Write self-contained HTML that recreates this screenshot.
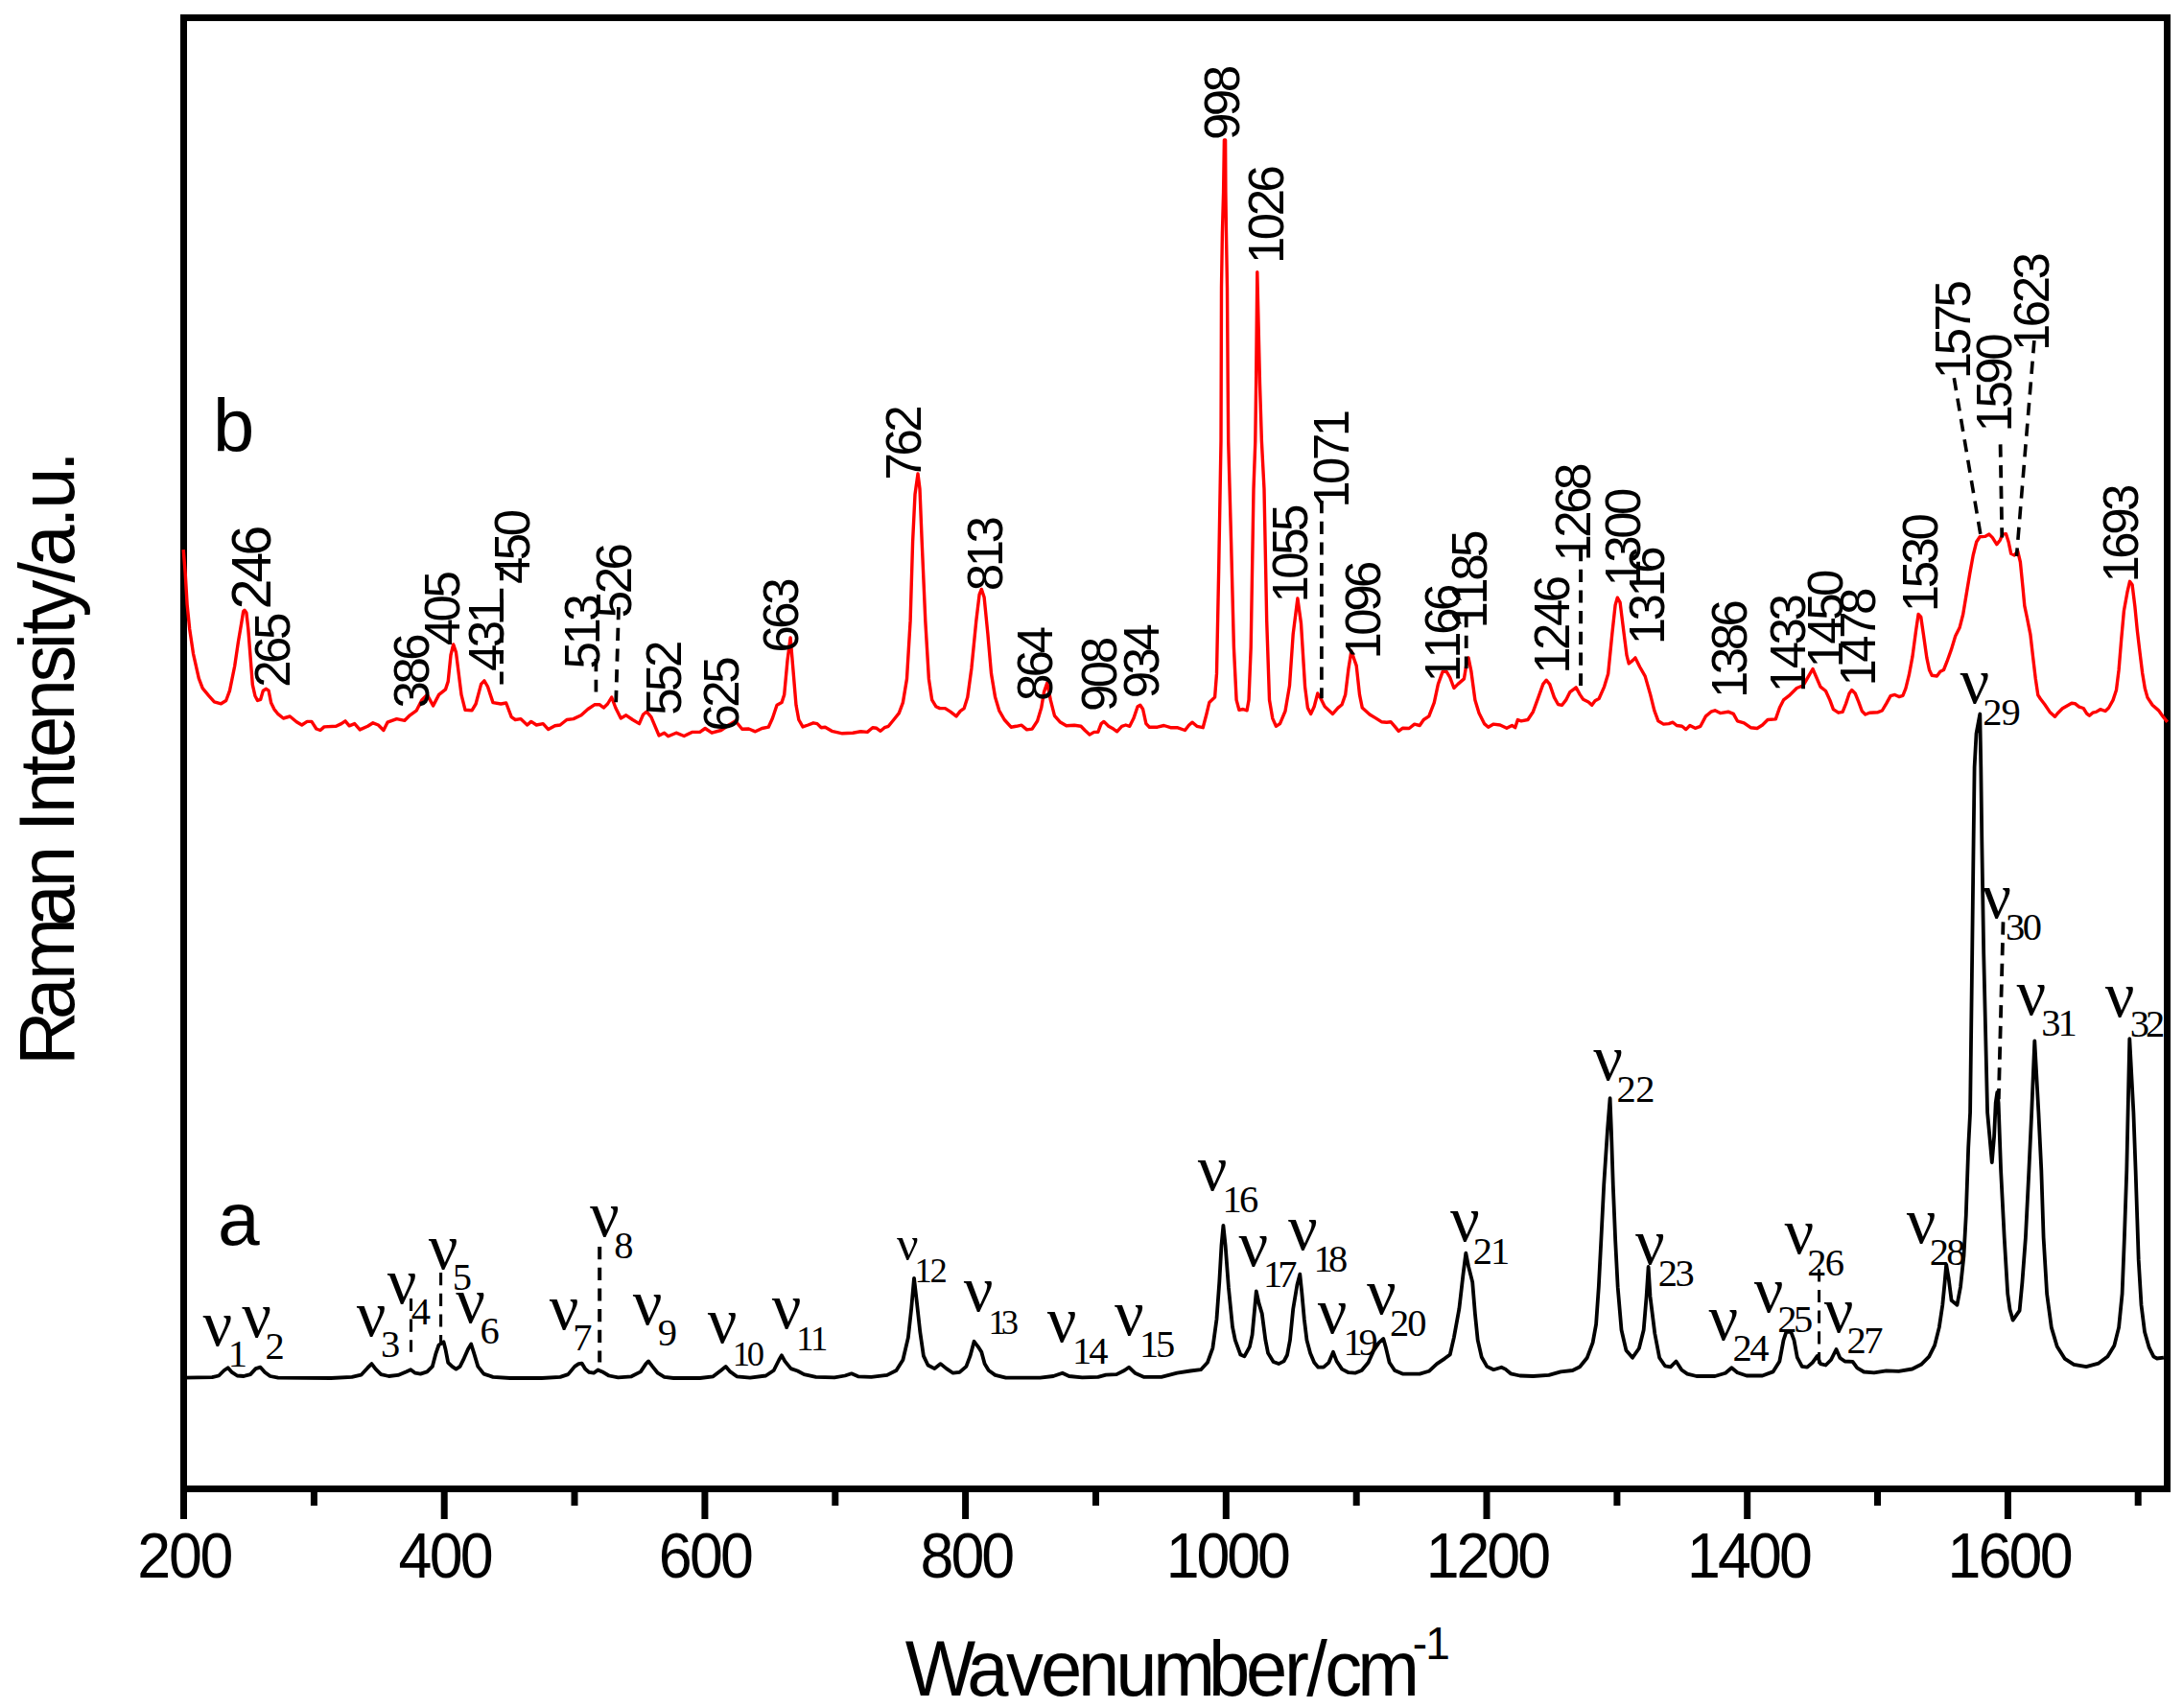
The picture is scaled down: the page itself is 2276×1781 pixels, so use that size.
<!DOCTYPE html>
<html><head><meta charset="utf-8"><title>Raman spectra</title>
<style>html,body{margin:0;padding:0;background:#fff;width:2276px;height:1781px;overflow:hidden}svg{display:block}</style></head>
<body>
<svg width="2276" height="1781" viewBox="0 0 2276 1781" font-family='"Liberation Sans", sans-serif' fill="#000" style="font-kerning:none">
<style>.sf{font-family:"Liberation Serif", serif}</style>
<rect width="2276" height="1781" fill="#fff"/>
<rect x="191.5" y="18.5" width="2068" height="1534" fill="none" stroke="#000" stroke-width="7"/>
<line x1="191.5" y1="1552" x2="191.5" y2="1584" stroke="#000" stroke-width="7"/>
<line x1="327.4" y1="1552" x2="327.4" y2="1570" stroke="#000" stroke-width="7"/>
<line x1="463.2" y1="1552" x2="463.2" y2="1584" stroke="#000" stroke-width="7"/>
<line x1="599.0" y1="1552" x2="599.0" y2="1570" stroke="#000" stroke-width="7"/>
<line x1="734.9" y1="1552" x2="734.9" y2="1584" stroke="#000" stroke-width="7"/>
<line x1="870.8" y1="1552" x2="870.8" y2="1570" stroke="#000" stroke-width="7"/>
<line x1="1006.6" y1="1552" x2="1006.6" y2="1584" stroke="#000" stroke-width="7"/>
<line x1="1142.5" y1="1552" x2="1142.5" y2="1570" stroke="#000" stroke-width="7"/>
<line x1="1278.3" y1="1552" x2="1278.3" y2="1584" stroke="#000" stroke-width="7"/>
<line x1="1414.2" y1="1552" x2="1414.2" y2="1570" stroke="#000" stroke-width="7"/>
<line x1="1550.0" y1="1552" x2="1550.0" y2="1584" stroke="#000" stroke-width="7"/>
<line x1="1685.9" y1="1552" x2="1685.9" y2="1570" stroke="#000" stroke-width="7"/>
<line x1="1821.7" y1="1552" x2="1821.7" y2="1584" stroke="#000" stroke-width="7"/>
<line x1="1957.5" y1="1552" x2="1957.5" y2="1570" stroke="#000" stroke-width="7"/>
<line x1="2093.4" y1="1552" x2="2093.4" y2="1584" stroke="#000" stroke-width="7"/>
<line x1="2229.2" y1="1552" x2="2229.2" y2="1570" stroke="#000" stroke-width="7"/>
<polyline points="191.0,1436.7 221.2,1436.2 228.1,1434.5 233.6,1429.0 237.7,1426.2 241.8,1430.9 247.3,1434.5 254.2,1435.0 261.1,1433.1 266.6,1427.1 271.5,1425.7 276.2,1430.9 281.7,1435.0 290.0,1436.7 344.9,1437.0 366.9,1435.9 376.5,1433.7 383.4,1426.2 387.5,1422.1 391.7,1427.6 397.2,1433.1 405.4,1435.0 415.0,1433.9 423.3,1430.4 428.2,1428.2 432.9,1431.7 438.4,1432.6 445.3,1430.4 450.8,1424.9 454.5,1411.1 457.5,1402.5 460.5,1400.5 462.5,1399.3 464.5,1407.0 467.2,1420.8 471.4,1424.9 475.5,1427.6 479.6,1424.9 483.7,1416.6 487.9,1407.0 491.2,1401.5 494.2,1411.1 498.3,1424.9 504.4,1432.6 514.0,1435.9 531.8,1437.0 564.8,1437.0 584.1,1435.9 592.3,1433.1 599.2,1424.9 603.3,1422.1 606.6,1421.6 610.2,1427.6 614.3,1430.9 619.0,1431.7 623.4,1428.4 628.0,1430.4 634.9,1434.5 644.5,1436.4 658.3,1435.3 667.9,1430.4 673.4,1422.1 676.1,1419.4 680.3,1424.9 685.8,1431.7 692.6,1435.9 702.3,1437.0 729.7,1437.0 743.5,1435.3 751.7,1429.0 756.7,1424.9 761.4,1430.4 768.2,1435.3 782.0,1436.7 798.5,1434.5 806.7,1429.0 812.2,1418.0 815.0,1413.3 818.3,1419.4 824.6,1427.1 831.5,1429.5 838.3,1433.1 850.7,1435.9 870.0,1436.4 880.9,1434.5 887.8,1432.3 894.7,1435.3 908.4,1435.9 924.9,1433.9 934.5,1429.0 941.4,1418.0 946.9,1394.6 950.2,1364.4 953.0,1332.8 956.0,1358.9 959.3,1389.1 962.9,1413.9 967.5,1423.5 974.4,1427.1 980.7,1422.1 986.8,1427.1 993.6,1431.7 1000.5,1430.9 1007.4,1424.9 1011.5,1413.9 1015.6,1398.8 1019.8,1404.3 1023.3,1409.8 1026.6,1422.1 1030.8,1429.0 1037.6,1433.9 1048.6,1436.7 1084.4,1436.7 1098.1,1435.0 1107.7,1431.7 1114.6,1435.0 1128.3,1436.4 1144.8,1435.9 1153.1,1433.7 1164.1,1433.1 1172.3,1429.0 1177.0,1425.7 1183.3,1431.7 1192.9,1435.9 1210.8,1435.9 1227.3,1431.7 1241.0,1429.5 1252.0,1428.2 1258.9,1420.8 1264.4,1405.6 1268.5,1375.4 1271.3,1336.9 1273.5,1298.4 1275.4,1277.8 1277.6,1298.4 1280.9,1342.4 1285.0,1383.6 1287.8,1397.4 1293.3,1412.5 1297.4,1414.4 1302.9,1404.3 1305.6,1391.9 1308.4,1361.7 1309.8,1346.5 1312.5,1358.9 1315.8,1369.9 1319.4,1397.4 1322.1,1411.1 1327.6,1419.9 1333.1,1422.1 1338.6,1419.4 1342.0,1413.0 1345.0,1397.4 1348.2,1365.0 1352.4,1339.7 1355.3,1328.7 1357.3,1347.9 1359.8,1375.4 1362.5,1397.4 1366.1,1411.1 1370.2,1420.8 1374.4,1425.7 1379.9,1425.7 1385.4,1420.8 1390.0,1409.8 1393.6,1419.4 1399.1,1427.6 1406.0,1431.2 1412.8,1431.7 1419.7,1429.0 1426.6,1420.8 1432.1,1408.4 1437.6,1400.1 1442.3,1396.0 1445.0,1405.6 1448.6,1420.8 1454.1,1429.0 1462.3,1432.6 1480.2,1432.6 1489.8,1429.8 1498.1,1422.1 1506.3,1416.6 1511.8,1412.5 1515.9,1394.6 1521.4,1364.4 1525.5,1328.7 1528.3,1306.7 1531.0,1320.4 1535.2,1336.9 1537.9,1369.9 1540.7,1397.4 1544.8,1415.3 1550.3,1424.9 1557.2,1428.2 1565.4,1425.7 1569.5,1427.6 1575.0,1432.3 1584.6,1434.5 1598.4,1435.0 1614.9,1433.9 1627.2,1430.4 1639.6,1429.0 1647.1,1425.3 1654.8,1415.7 1660.6,1400.2 1664.1,1380.9 1666.8,1342.2 1669.3,1293.9 1672.2,1235.9 1676.0,1178.0 1678.6,1145.1 1679.9,1178.0 1681.8,1235.9 1684.2,1293.9 1686.7,1342.2 1690.5,1386.7 1695.4,1407.9 1702.1,1415.7 1708.9,1406.0 1713.7,1386.7 1716.6,1351.9 1718.6,1321.0 1720.5,1351.9 1725.3,1390.5 1730.1,1415.7 1735.9,1424.3 1741.7,1425.3 1747.5,1419.5 1753.3,1428.5 1759.2,1432.6 1768.8,1435.0 1788.0,1435.0 1799.0,1431.7 1805.4,1426.2 1811.4,1431.2 1821.0,1434.5 1837.5,1434.5 1848.5,1430.4 1855.4,1419.4 1859.5,1397.4 1862.3,1389.1 1867.2,1388.6 1870.5,1397.4 1873.8,1415.3 1878.8,1424.9 1884.2,1425.7 1889.7,1420.8 1894.7,1413.9 1898.0,1422.1 1903.5,1423.5 1909.0,1418.0 1914.5,1407.0 1918.4,1416.0 1923.4,1419.5 1931.6,1419.8 1936.3,1426.3 1943.3,1430.5 1953.9,1431.4 1966.7,1429.3 1979.6,1429.8 1993.7,1427.5 2003.0,1422.8 2011.2,1414.6 2017.1,1402.9 2021.8,1384.1 2025.3,1360.7 2027.6,1337.3 2029.2,1318.6 2031.6,1332.6 2034.6,1356.0 2040.5,1360.7 2044.0,1342.0 2047.5,1309.2 2049.8,1267.1 2052.2,1196.8 2054.1,1160.0 2056.2,994.0 2057.6,877.0 2058.6,800.0 2060.5,765.0 2064.3,744.5 2065.3,800.0 2066.3,877.0 2068.2,994.0 2072.1,1160.0 2074.4,1185.1 2076.8,1212.0 2079.1,1185.1 2080.7,1150.0 2082.3,1139.0 2083.6,1150.0 2086.1,1220.2 2089.7,1290.5 2093.2,1349.0 2095.5,1365.4 2098.6,1376.6 2105.6,1366.6 2108.4,1337.3 2111.9,1290.5 2115.4,1220.2 2118.2,1160.0 2121.3,1085.4 2125.4,1160.0 2128.3,1220.2 2130.6,1290.5 2134.1,1349.0 2138.8,1384.1 2144.7,1404.0 2152.9,1416.9 2162.2,1422.8 2175.1,1425.1 2188.0,1421.6 2197.4,1414.6 2204.4,1402.9 2209.1,1384.1 2212.6,1349.0 2214.9,1290.5 2217.3,1220.2 2218.6,1160.0 2220.3,1083.1 2224.4,1160.0 2226.6,1220.2 2229.7,1313.9 2232.5,1360.7 2236.0,1388.8 2240.7,1405.2 2245.4,1414.6 2248.9,1416.5 2255.9,1415.7" fill="none" stroke="#000" stroke-width="3.8" stroke-linejoin="round" stroke-linecap="butt"/>
<polyline points="191.2,573.2 193.2,597.9 195.1,630.1 197.7,655.9 201.5,681.6 207.3,707.4 211.2,717.7 217.6,725.4 223.4,731.8 230.5,733.8 235.7,730.5 239.5,720.2 244.7,694.5 248.5,668.7 251.8,649.4 253.7,637.5 255.0,636.3 256.9,639.0 258.8,655.9 260.8,681.6 263.3,713.8 265.9,725.4 268.5,730.5 271.7,729.3 274.3,720.2 277.5,718.3 280.1,720.2 282.7,733.1 285.9,739.6 290.0,744.7 295.4,749.0 302.3,747.0 309.2,752.7 314.7,756.0 320.2,752.4 324.9,752.4 329.8,760.0 333.9,761.5 338.0,757.9 350.4,757.3 355.9,754.6 360.0,751.8 364.2,756.8 369.7,754.6 375.2,760.9 383.4,757.3 388.9,753.8 394.4,756.0 399.9,761.5 404.0,753.2 413.6,749.6 421.9,751.3 427.4,745.8 434.3,740.8 439.8,729.9 445.3,724.4 451.6,735.9 457.6,724.4 464.5,718.9 467.2,710.6 470.0,683.0 472.7,672.0 475.5,680.4 481.0,724.4 485.0,740.3 492.0,740.8 496.1,734.0 501.6,713.4 504.9,709.8 508.5,716.0 514.0,732.6 522.2,734.0 527.7,733.0 533.2,747.7 537.3,750.5 542.8,749.6 549.7,756.0 553.8,752.4 559.3,756.0 566.2,754.6 571.7,760.6 578.6,756.8 584.0,756.0 590.9,750.5 597.8,749.6 606.0,745.8 612.9,739.5 619.8,734.8 625.3,734.8 629.4,738.0 633.5,734.0 637.7,727.0 641.8,738.0 647.3,749.0 652.8,745.8 659.6,750.5 666.5,754.6 670.6,745.0 674.2,742.2 678.9,747.7 687.1,767.0 692.6,764.2 696.7,767.8 705.0,764.2 713.2,767.5 721.5,763.4 729.7,763.4 735.2,759.5 742.1,764.2 751.7,761.5 760.0,756.0 766.8,751.8 773.7,760.3 780.6,760.0 787.5,762.8 794.4,759.5 801.2,758.2 805.4,749.0 810.0,735.3 815.0,732.6 817.7,724.4 821.0,688.6 824.1,665.0 826.8,696.9 830.0,735.3 832.8,750.5 837.0,757.9 842.5,756.0 848.0,753.8 852.0,754.6 856.2,758.7 860.3,758.2 867.2,762.3 878.2,764.8 889.2,764.2 897.4,762.8 904.3,763.4 909.8,758.7 913.9,759.3 918.0,762.3 922.2,758.7 926.3,757.3 931.8,750.5 937.3,743.6 941.4,732.6 945.5,707.9 949.1,647.4 951.6,564.9 954.0,515.4 957.0,494.0 959.0,510.0 961.2,564.9 964.8,647.4 968.4,707.9 971.7,729.9 975.8,736.7 979.9,738.6 985.4,738.6 990.9,742.2 997.0,746.9 1001.3,741.4 1005.2,738.6 1008.8,727.1 1012.9,696.9 1017.8,647.4 1021.1,619.9 1023.3,614.4 1026.1,622.7 1029.9,661.1 1033.5,702.4 1037.6,727.1 1041.7,740.8 1047.2,750.5 1054.1,758.2 1059.6,757.3 1065.1,756.2 1070.6,760.9 1076.1,760.1 1081.6,751.8 1085.7,738.1 1088.5,721.6 1091.8,712.0 1095.3,729.9 1099.5,746.3 1105.0,752.7 1111.8,756.8 1120.1,756.2 1127.0,757.3 1131.1,761.5 1136.0,766.1 1140.7,763.4 1144.8,763.4 1148.1,754.6 1150.9,752.4 1155.8,757.3 1160.8,760.1 1164.6,762.8 1169.6,757.3 1173.7,756.0 1177.8,757.3 1181.9,749.1 1186.1,736.7 1188.8,735.3 1191.6,739.5 1194.9,754.6 1198.4,758.2 1206.7,758.2 1213.5,756.5 1220.4,758.7 1227.3,758.7 1235.5,761.5 1239.7,756.0 1243.2,753.2 1247.9,757.3 1254.2,758.7 1257.5,746.3 1260.8,732.6 1266.6,727.1 1268.5,702.4 1270.7,592.4 1273.0,460.0 1273.2,400.0 1273.5,300.0 1274.4,243.0 1275.6,200.0 1276.4,146.0 1277.6,146.0 1277.9,200.0 1278.5,243.0 1279.5,300.0 1280.2,400.0 1280.7,460.0 1283.6,564.9 1286.4,674.9 1289.1,729.9 1291.9,740.3 1296.0,739.5 1300.1,740.8 1302.0,729.9 1304.2,674.9 1307.0,510.0 1308.8,460.0 1309.6,400.0 1310.8,283.6 1313.5,400.0 1315.4,460.0 1318.0,510.0 1320.7,647.4 1323.5,729.9 1326.8,749.1 1330.4,757.3 1334.5,754.6 1340.0,741.5 1344.5,715.0 1348.2,661.1 1352.9,624.0 1356.5,650.0 1360.6,716.1 1363.4,738.1 1366.7,744.4 1370.2,736.7 1373.8,723.0 1377.1,728.5 1381.2,736.7 1389.5,744.4 1395.0,738.1 1399.1,734.8 1402.7,724.4 1406.0,696.9 1408.9,679.0 1414.2,694.1 1417.5,724.4 1420.3,738.1 1428.0,745.0 1434.8,749.1 1440.3,752.7 1445.8,753.2 1450.0,752.7 1454.1,757.3 1458.2,762.3 1462.3,759.3 1469.2,759.5 1474.7,755.1 1480.2,756.5 1484.3,750.5 1489.8,746.9 1495.3,732.6 1499.4,713.4 1504.1,700.4 1508.2,700.4 1511.8,706.5 1515.9,717.5 1520.0,713.4 1526.4,707.9 1529.1,691.4 1531.0,685.9 1533.8,699.6 1537.9,729.9 1542.0,743.6 1547.5,754.6 1551.7,758.2 1557.2,755.1 1564.0,756.0 1570.9,759.3 1576.4,756.5 1579.7,758.7 1582.4,750.5 1586.0,751.8 1592.9,750.5 1598.4,742.2 1603.9,727.1 1608.8,713.4 1612.1,709.2 1615.7,713.4 1620.4,727.1 1624.5,734.5 1628.6,735.3 1632.7,729.9 1636.9,721.6 1643.2,716.9 1647.3,724.4 1650.6,729.3 1656.1,732.0 1659.7,735.3 1663.0,730.7 1667.1,728.5 1672.6,716.1 1676.7,702.4 1680.8,661.1 1684.1,630.9 1686.3,623.2 1689.1,628.1 1693.2,661.1 1696.0,683.1 1698.2,691.9 1702.3,688.6 1705.0,685.9 1709.7,695.5 1715.2,705.1 1720.7,724.4 1724.8,740.8 1728.9,751.8 1734.4,755.1 1739.9,754.6 1744.1,753.2 1748.2,756.5 1753.7,757.3 1757.8,760.6 1761.9,756.5 1767.4,759.3 1772.9,757.3 1778.4,746.9 1783.9,742.2 1788.0,740.8 1793.5,743.6 1801.8,742.2 1807.3,744.4 1811.4,751.8 1818.3,753.8 1825.2,758.7 1832.0,759.5 1837.5,756.0 1843.0,750.5 1851.3,749.9 1855.4,738.1 1859.5,729.9 1865.0,725.7 1873.3,717.5 1880.1,714.7 1885.6,705.1 1890.0,697.5 1893.9,706.5 1898.0,716.1 1903.5,720.5 1907.9,730.1 1911.4,739.7 1916.7,743.2 1921.1,742.4 1924.6,733.6 1928.1,723.0 1930.7,719.5 1934.2,723.0 1937.8,731.8 1941.3,741.5 1944.8,745.0 1949.2,743.2 1958.0,742.7 1962.3,741.0 1966.7,733.6 1971.1,725.7 1975.5,724.4 1979.9,726.6 1983.9,725.3 1986.9,717.8 1990.4,703.7 1994.0,684.4 1997.5,658.1 2000.1,640.5 2002.7,643.1 2005.4,661.6 2008.9,686.2 2011.5,698.5 2014.2,704.3 2019.4,705.0 2022.9,700.2 2026.5,698.5 2030.0,689.7 2034.4,677.4 2038.7,663.3 2043.1,654.6 2046.7,640.5 2050.2,619.4 2053.7,598.4 2057.2,579.0 2060.7,565.0 2064.2,559.7 2069.5,559.4 2073.9,557.1 2077.4,560.6 2081.8,567.6 2085.3,563.2 2087.9,557.1 2091.4,556.6 2094.1,565.0 2096.7,577.3 2100.2,579.0 2103.7,574.6 2106.4,586.1 2109.0,612.4 2110.8,631.7 2113.4,644.0 2116.9,661.6 2119.5,684.4 2122.2,707.2 2124.8,724.8 2127.4,728.8 2131.8,734.5 2137.1,742.4 2142.4,747.3 2145.9,743.2 2150.3,738.8 2154.7,736.2 2159.9,733.2 2163.4,733.6 2167.8,737.1 2172.2,738.5 2175.7,744.1 2178.4,746.2 2181.9,743.2 2185.4,742.4 2189.8,739.7 2195.0,741.5 2198.6,738.0 2203.0,730.1 2206.5,719.5 2209.1,698.5 2211.7,666.8 2214.4,637.0 2217.9,617.7 2220.5,606.3 2223.1,609.8 2225.8,631.7 2228.4,658.1 2231.1,680.9 2233.7,702.0 2236.3,717.8 2239.0,727.4 2244.2,735.3 2250.4,740.6 2254.8,746.8 2259.7,752.9" fill="none" stroke="#ff0000" stroke-width="3.4" stroke-linejoin="round" stroke-linecap="butt"/>
<line x1="522.9" y1="592" x2="522.9" y2="713.6" stroke="#000" stroke-width="3.9" stroke-dasharray="13.2 8.5"/>
<line x1="621.4" y1="687" x2="621.4" y2="721.6" stroke="#000" stroke-width="3.7" stroke-dasharray="13.2 8.5"/>
<line x1="645" y1="633.1" x2="642.2" y2="732.2" stroke="#000" stroke-width="3.8" stroke-dasharray="13.2 8.5"/>
<line x1="1377.9" y1="522" x2="1377.9" y2="728.3" stroke="#000" stroke-width="3.7" stroke-dasharray="13.2 8.5"/>
<line x1="1528.7" y1="641" x2="1528.7" y2="696.9" stroke="#000" stroke-width="3.8" stroke-dasharray="13.2 8.5"/>
<line x1="1648.1" y1="572" x2="1648.1" y2="715.1" stroke="#000" stroke-width="3.9" stroke-dasharray="13.2 8.5"/>
<line x1="2037.3" y1="394.1" x2="2065" y2="558" stroke="#000" stroke-width="3.6" stroke-dasharray="13.2 8.5"/>
<line x1="2085.6" y1="463.4" x2="2087.3" y2="560.5" stroke="#000" stroke-width="3.8" stroke-dasharray="13.2 8.5"/>
<line x1="2120.9" y1="355.1" x2="2102.5" y2="580" stroke="#000" stroke-width="3.6" stroke-dasharray="13.2 8.5"/>
<line x1="428.5" y1="1353.9" x2="428.5" y2="1409.7" stroke="#000" stroke-width="3.1" stroke-dasharray="13.2 8.5"/>
<line x1="459.6" y1="1327" x2="459.6" y2="1402.6" stroke="#000" stroke-width="3.1" stroke-dasharray="13.2 8.5"/>
<line x1="625.2" y1="1300" x2="625.2" y2="1420.6" stroke="#000" stroke-width="4.0" stroke-dasharray="13.2 8.5"/>
<line x1="1896.6" y1="1323.2" x2="1896.6" y2="1422.1" stroke="#000" stroke-width="3.0" stroke-dasharray="13.2 8.5"/>
<line x1="2088.5" y1="961.4" x2="2083.8" y2="1146.3" stroke="#000" stroke-width="3.8" stroke-dasharray="13.2 8.5"/>
<text transform="translate(143.3,1645) scale(0.945,1)" font-size="66.3" letter-spacing="-2.35">200</text>
<text transform="translate(415.6,1645) scale(0.945,1)" font-size="66.3" letter-spacing="-2.88">400</text>
<text transform="translate(686.8,1645) scale(0.945,1)" font-size="66.3" letter-spacing="-2.91">600</text>
<text transform="translate(959.6,1645) scale(0.945,1)" font-size="66.3" letter-spacing="-3.16">800</text>
<text transform="translate(1215.7,1645) scale(0.945,1)" font-size="66.3" letter-spacing="-3.24">1000</text>
<text transform="translate(1486.8,1645) scale(0.945,1)" font-size="66.3" letter-spacing="-3.24">1200</text>
<text transform="translate(1758.9,1645) scale(0.945,1)" font-size="66.3" letter-spacing="-2.96">1400</text>
<text transform="translate(2030.5,1645) scale(0.945,1)" font-size="66.3" letter-spacing="-2.96">1600</text>
<text transform="translate(0,1767.6) scale(0.96,1)" font-size="81" x="983.1 1050.3 1092.7 1130.2 1170.9 1211.7 1252.3 1312.4 1353.1 1394.8 1419.1 1438.8 1474.2" y="0">Wavenumber/cm<tspan x="1534.1" y="-37.7" font-size="48" letter-spacing="-2">-1</tspan></text>
<text transform="translate(77.2,0) rotate(-90) scale(0.96,1)" font-size="81" x="-1157.1 -1107.3 -1064.5 -1005.9 -963.8 -921.9 -903.3 -883.5 -842.7 -822.8 -782.7 -741.2 -705.4 -689.4 -670.4 -632.8 -615.3 -573.2 -553.0 -512.6">Raman Intensity/a.u.</text>
<text x="221.9" y="471.2" font-size="77.7">b</text>
<text x="227.1" y="1298.3" font-size="78.5">a</text>
<text transform="translate(281.6,635.2) rotate(-90)" font-size="57.0" letter-spacing="-3.91">246</text>
<text transform="translate(302.4,716.8) rotate(-90)" font-size="51.0" letter-spacing="-3.50">265</text>
<text transform="translate(446.7,738.4) rotate(-90)" font-size="51.0" letter-spacing="-3.50">386</text>
<text transform="translate(479.3,673.3) rotate(-90)" font-size="51.0" letter-spacing="-3.50">405</text>
<text transform="translate(524.6,700.0) rotate(-90)" font-size="51.0" letter-spacing="-3.50">431</text>
<text transform="translate(551.6,609.0) rotate(-90)" font-size="51.0" letter-spacing="-3.50">450</text>
<text transform="translate(625.4,697.4) rotate(-90)" font-size="51.0" letter-spacing="-3.50">513</text>
<text transform="translate(658.2,644.2) rotate(-90)" font-size="51.0" letter-spacing="-3.50">526</text>
<text transform="translate(709.7,745.8) rotate(-90)" font-size="51.0" letter-spacing="-3.50">552</text>
<text transform="translate(769.6,762.6) rotate(-90)" font-size="51.0" letter-spacing="-3.50">625</text>
<text transform="translate(831.8,680.5) rotate(-90)" font-size="51.0" letter-spacing="-3.50">663</text>
<text transform="translate(960.4,500.4) rotate(-90)" font-size="51.0" letter-spacing="-3.50">762</text>
<text transform="translate(1044.5,616.2) rotate(-90)" font-size="51.0" letter-spacing="-3.50">813</text>
<text transform="translate(1096.5,731.0) rotate(-90)" font-size="51.0" letter-spacing="-3.50">864</text>
<text transform="translate(1163.5,742.0) rotate(-90)" font-size="51.0" letter-spacing="-3.50">908</text>
<text transform="translate(1207.5,728.3) rotate(-90)" font-size="51.0" letter-spacing="-3.50">934</text>
<text transform="translate(1291.5,146.0) rotate(-90)" font-size="51.0" letter-spacing="-3.50">998</text>
<text transform="translate(1337.5,275.0) rotate(-90)" font-size="51.0" letter-spacing="-3.50">1026</text>
<text transform="translate(1362.5,628.5) rotate(-90)" font-size="51.0" letter-spacing="-3.50">1055</text>
<text transform="translate(1405.7,529.8) rotate(-90)" font-size="51.0" letter-spacing="-3.50">1071</text>
<text transform="translate(1438.8,687.5) rotate(-90)" font-size="51.0" letter-spacing="-3.50">1096</text>
<text transform="translate(1521.5,711.5) rotate(-90)" font-size="51.0" letter-spacing="-3.50">1166</text>
<text transform="translate(1549.7,655.6) rotate(-90)" font-size="51.0" letter-spacing="-3.50">1185</text>
<text transform="translate(1635.7,702.8) rotate(-90)" font-size="51.0" letter-spacing="-3.50">1246</text>
<text transform="translate(1657.6,585.5) rotate(-90)" font-size="51.0" letter-spacing="-3.50">1268</text>
<text transform="translate(1709.5,611.6) rotate(-90)" font-size="51.0" letter-spacing="-3.50">1300</text>
<text transform="translate(1734.6,672.3) rotate(-90)" font-size="51.0" letter-spacing="-3.50">1316</text>
<text transform="translate(1820.5,728.1) rotate(-90)" font-size="51.0" letter-spacing="-3.50">1386</text>
<text transform="translate(1881.5,722.2) rotate(-90)" font-size="51.0" letter-spacing="-3.50">1433</text>
<text transform="translate(1920.5,696.6) rotate(-90)" font-size="51.0" letter-spacing="-3.50">1450</text>
<text transform="translate(1955.4,715.6) rotate(-90)" font-size="51.0" letter-spacing="-3.50">1478</text>
<text transform="translate(2019.5,638.2) rotate(-90)" font-size="51.0" letter-spacing="-3.50">1530</text>
<text transform="translate(2053.6,395.2) rotate(-90)" font-size="51.0" letter-spacing="-3.50">1575</text>
<text transform="translate(2096.7,450.4) rotate(-90)" font-size="51.0" letter-spacing="-3.50">1590</text>
<text transform="translate(2136.4,366.0) rotate(-90)" font-size="51.0" letter-spacing="-3.50">1623</text>
<text transform="translate(2228.5,607.5) rotate(-90)" font-size="51.0" letter-spacing="-3.50">1693</text>
<text class="sf" x="211.4" y="1402.5" font-size="68.0">ν<tspan x="237.8" y="1425.2" font-size="40.5">1</tspan></text>
<text class="sf" x="252.2" y="1393.8" font-size="68.0">ν<tspan x="276.6" y="1416.5" font-size="40.5">2</tspan></text>
<text class="sf" x="371.8" y="1393.0" font-size="68.0">ν<tspan x="397.1" y="1415.3" font-size="40.5">3</tspan></text>
<text class="sf" x="403.8" y="1359.2" font-size="68.0">ν<tspan x="428.8" y="1381.4" font-size="40.5">4</tspan></text>
<text class="sf" x="446.8" y="1323.0" font-size="68.0">ν<tspan x="471.8" y="1344.7" font-size="40.5">5</tspan></text>
<text class="sf" x="475.2" y="1379.3" font-size="68.0">ν<tspan x="500.4" y="1400.8" font-size="40.5">6</tspan></text>
<text class="sf" x="572.8" y="1385.6" font-size="68.0">ν<tspan x="597.2" y="1407.5" font-size="40.5">7</tspan></text>
<text class="sf" x="615.1" y="1289.4" font-size="68.0">ν<tspan x="640.3" y="1311.7" font-size="40.5">8</tspan></text>
<text class="sf" x="659.8" y="1381.2" font-size="68.0">ν<tspan x="685.8" y="1403.0" font-size="40.5">9</tspan></text>
<text class="sf" x="737.8" y="1399.8" font-size="68.0">ν<tspan x="763.7" y="1423.6" font-size="36.6" letter-spacing="-3.34">10</tspan></text>
<text class="sf" x="804.8" y="1384.8" font-size="68.0">ν<tspan x="830.3" y="1408.3" font-size="36.6" letter-spacing="-3.66">11</tspan></text>
<text class="sf" x="935.1" y="1313.6" font-size="49.9">ν<tspan x="953.4" y="1336.9" font-size="36.6" letter-spacing="-2.22">12</tspan></text>
<text class="sf" x="1004.8" y="1367.0" font-size="68.0">ν<tspan x="1030.4" y="1391.1" font-size="36.6" letter-spacing="-5.00">13</tspan></text>
<text class="sf" x="1091.7" y="1399.4" font-size="68.0">ν<tspan x="1117.9" y="1422.1" font-size="40.5" letter-spacing="-2.97">14</tspan></text>
<text class="sf" x="1162.1" y="1391.7" font-size="68.0">ν<tspan x="1188.0" y="1414.8" font-size="40.5" letter-spacing="-3.32">15</tspan></text>
<text class="sf" x="1248.7" y="1241.3" font-size="68.0">ν<tspan x="1274.6" y="1264.2" font-size="40.5" letter-spacing="-2.90">16</tspan></text>
<text class="sf" x="1291.6" y="1320.2" font-size="68.0">ν<tspan x="1317.1" y="1342.4" font-size="40.5" letter-spacing="-5.00">17</tspan></text>
<text class="sf" x="1342.9" y="1303.2" font-size="68.0">ν<tspan x="1369.5" y="1325.5" font-size="40.5" letter-spacing="-4.86">18</tspan></text>
<text class="sf" x="1373.7" y="1389.8" font-size="68.0">ν<tspan x="1400.5" y="1412.6" font-size="40.5" letter-spacing="-4.14">19</tspan></text>
<text class="sf" x="1425.0" y="1370.3" font-size="68.0">ν<tspan x="1449.1" y="1393.4" font-size="40.5" letter-spacing="-1.98">20</tspan></text>
<text class="sf" x="1512.0" y="1294.1" font-size="68.0">ν<tspan x="1535.7" y="1318.2" font-size="40.5" letter-spacing="-2.03">21</tspan></text>
<text class="sf" x="1661.2" y="1126.3" font-size="68.0">ν<tspan x="1685.4" y="1149.3" font-size="40.5" letter-spacing="-0.49">22</tspan></text>
<text class="sf" x="1705.0" y="1318.0" font-size="68.0">ν<tspan x="1728.7" y="1340.6" font-size="40.5" letter-spacing="-2.54">23</tspan></text>
<text class="sf" x="1781.6" y="1397.2" font-size="68.0">ν<tspan x="1806.5" y="1419.3" font-size="40.5" letter-spacing="-2.39">24</tspan></text>
<text class="sf" x="1828.7" y="1368.3" font-size="68.0">ν<tspan x="1853.2" y="1389.2" font-size="40.5" letter-spacing="-3.34">25</tspan></text>
<text class="sf" x="1860.4" y="1307.3" font-size="68.0">ν<tspan x="1884.3" y="1330.1" font-size="40.5" letter-spacing="-1.81">26</tspan></text>
<text class="sf" x="1901.7" y="1388.6" font-size="68.0">ν<tspan x="1925.4" y="1410.9" font-size="40.5" letter-spacing="-2.35">27</tspan></text>
<text class="sf" x="1987.8" y="1296.1" font-size="68.0">ν<tspan x="2011.8" y="1318.7" font-size="40.5" letter-spacing="-2.88">28</tspan></text>
<text class="sf" x="2043.4" y="733.4" font-size="68.0">ν<tspan x="2067.3" y="755.6" font-size="40.5" letter-spacing="-1.16">29</tspan></text>
<text class="sf" x="2066.2" y="956.9" font-size="68.0">ν<tspan x="2090.9" y="980.2" font-size="40.5" letter-spacing="-2.32">30</tspan></text>
<text class="sf" x="2102.5" y="1058.3" font-size="68.0">ν<tspan x="2128.3" y="1079.7" font-size="40.5" letter-spacing="-2.97">31</tspan></text>
<text class="sf" x="2194.7" y="1059.5" font-size="68.0">ν<tspan x="2220.8" y="1081.3" font-size="40.5" letter-spacing="-3.93">32</tspan></text>
</svg>
</body></html>
